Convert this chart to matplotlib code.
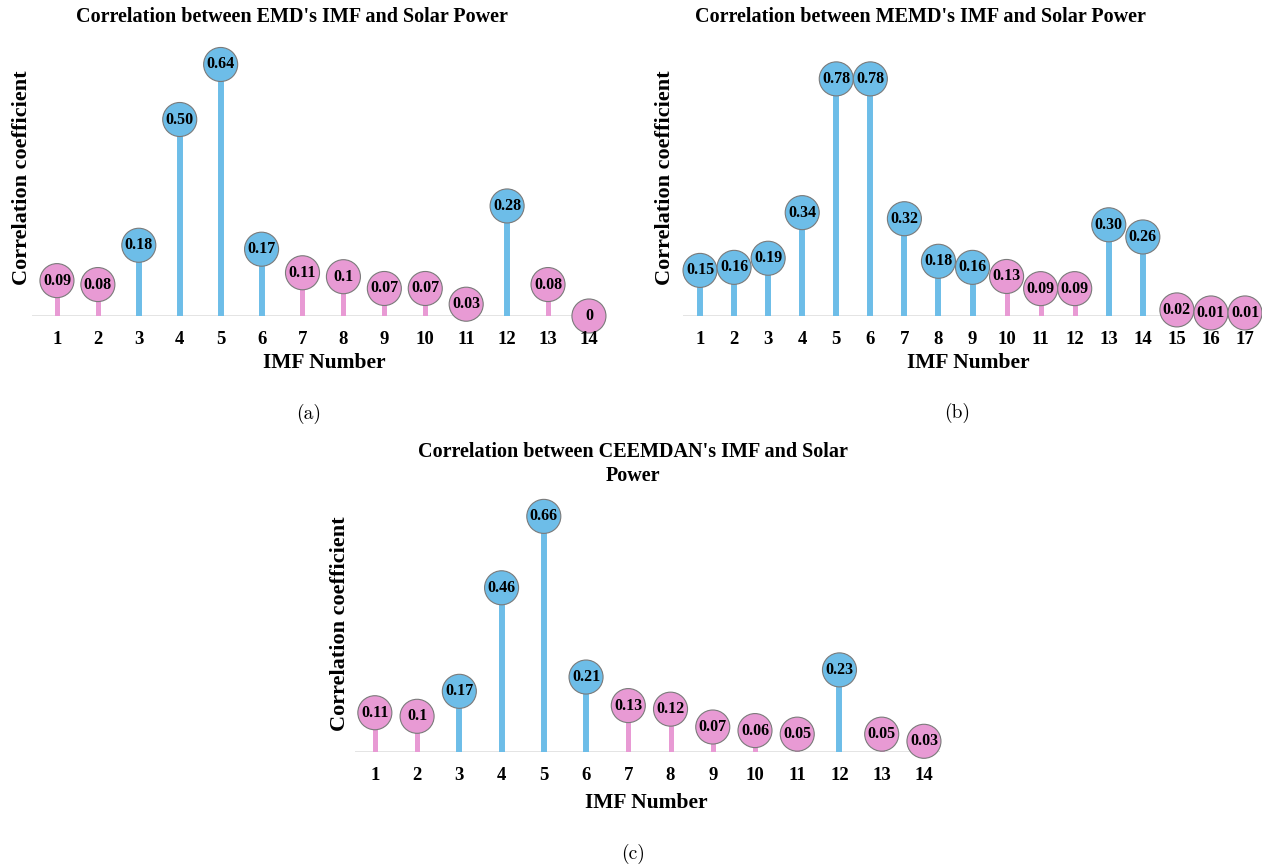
import numpy as np
import matplotlib
matplotlib.use('Agg')
import matplotlib.pyplot as plt
from matplotlib.transforms import blended_transform_factory

W, H = 1262, 866
BLUE = '#6dbde8'
PINK = '#e89ad4'
EDGE = '#7a7a7a'
SERIF = 'Liberation Serif'
THRESH = 0.15

# data
emd_vals = [0.09, 0.08, 0.18, 0.50, 0.64, 0.17, 0.11, 0.10, 0.07, 0.07, 0.03, 0.28, 0.08, 0.0]
emd_labels = ['0.09', '0.08', '0.18', '0.50', '0.64', '0.17', '0.11', '0.1', '0.07', '0.07', '0.03', '0.28', '0.08', '0']

memd_vals = [0.15, 0.16, 0.19, 0.34, 0.78, 0.78, 0.32, 0.18, 0.16, 0.13, 0.09, 0.09, 0.30, 0.26, 0.02, 0.01, 0.01]
memd_labels = ['0.15', '0.16', '0.19', '0.34', '0.78', '0.78', '0.32', '0.18', '0.16', '0.13', '0.09', '0.09',
               '0.30', '0.26', '0.02', '0.01', '0.01']

ceemdan_vals = [0.11, 0.10, 0.17, 0.46, 0.66, 0.21, 0.13, 0.12, 0.07, 0.06, 0.05, 0.23, 0.05, 0.03]
ceemdan_labels = ['0.11', '0.1', '0.17', '0.46', '0.66', '0.21', '0.13', '0.12', '0.07', '0.06', '0.05', '0.23',
                  '0.05', '0.03']

fig = plt.figure(figsize=(W / 100, H / 100), dpi=100)


def px_axes(x0, x1, y_base, y_top):
    return fig.add_axes([x0 / W, 1 - y_base / H, (x1 - x0) / W, (y_base - y_top) / H])


def fx(px):
    return px / W


def fy(py):
    return 1 - py / H


def draw(ax, vals, labels, scale, pad_l, pad_r, title, title_xy, ylab_x, xlab_xy, tag_xy, sub):
    n = len(vals)
    x = np.arange(1, n + 1)
    h_px = ax.get_position().height * H
    ax.set_ylim(0, h_px / scale)
    ax.set_xlim(1 - pad_l, n + pad_r)
    cols = [BLUE if v >= THRESH else PINK for v in vals]
    for xi, v, c in zip(x, vals, cols):
        ax.vlines(xi, 0, v, color=c, lw=4.3 if c == BLUE else 3.6, zorder=2)
    ax.scatter(x, vals, s=24.5 ** 2, c=cols, edgecolors=EDGE, linewidths=0.8, zorder=3, clip_on=False)
    for xi, v, lab in zip(x, vals, labels):
        ax.text(xi, v, lab, ha='center', va='center', fontsize=11.5, fontweight='bold',
                family=SERIF, zorder=4)
    ax.axhline(0, color='#dcdcdc', lw=1.8, zorder=1)
    for s in ax.spines.values():
        s.set_visible(False)
    ax.set_yticks([])
    ax.set_xticks(x)
    ax.set_xticklabels([str(i) for i in x], fontsize=13.5, fontweight='bold', family=SERIF)
    ax.tick_params(axis='x', length=0, pad=11)
    ax.xaxis.set_zorder(5)
    fig.text(fx(title_xy[0]), fy(title_xy[1]), title, ha='center', va='center', fontsize=14.5,
             fontweight='bold', family=SERIF, linespacing=1.3)
    ax.text(fx(ylab_x), 0.5, 'Correlation coefficient',
            transform=blended_transform_factory(fig.transFigure, ax.transAxes),
            rotation=90, ha='center', va='center', fontsize=16, fontweight='bold', family=SERIF)
    fig.text(fx(xlab_xy[0]), fy(xlab_xy[1]), 'IMF Number', ha='center', va='center', fontsize=15.5,
             fontweight='bold', family=SERIF)
    fig.text(fx(tag_xy[0]), fy(tag_xy[1]), sub, ha='center', va='center', fontsize=14, family='cmr10')


ax1 = px_axes(32, 600, 316, 40)
draw(ax1, emd_vals, emd_labels, 393, 0.61, 0.27, "Correlation between EMD's IMF and Solar Power",
     (292, 17), 22, (324, 363), (309, 414), '(a)')

ax2 = px_axes(683, 1260, 316, 40)
draw(ax2, memd_vals, memd_labels, 304, 0.5, 0.44, "Correlation between MEMD's IMF and Solar Power",
     (920, 17), 665, (968, 363), (957, 413), '(b)')

ax3 = px_axes(355, 940, 752, 495)
draw(ax3, ceemdan_vals, ceemdan_labels, 357, 0.47, 0.38,
     "Correlation between CEEMDAN's IMF and Solar\nPower", (633, 464), 340, (646, 803), (633, 854), '(c)')

fig.savefig('out.png', dpi=100, facecolor='white')
